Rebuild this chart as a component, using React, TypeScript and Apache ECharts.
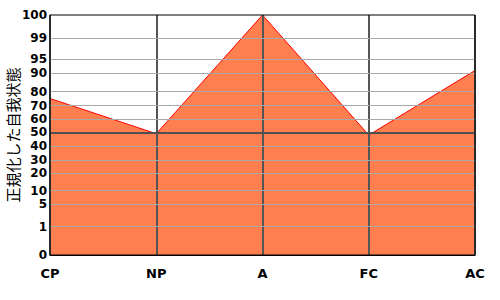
import React, { useEffect, useRef } from "react";
import * as echarts from "echarts";

const CATEGORIES = ["CP", "NP", "A", "FC", "AC"];
const VALUES = [75, 49, 100, 48, 91];
// normalized-score tick labels and where each sits on the (non-linear) axis scale, in axis units 0..240
const TICK_LABELS = [0, 1, 5, 10, 20, 30, 40, 50, 60, 70, 80, 90, 95, 99, 100];
const TICK_SCALE = [0, 28.3, 50.7, 64.3, 81.7, 95, 108.7, 122.7, 135.7, 149.5, 163.5, 181.7, 195.7, 217, 240];
const Y_NAME = "正規化した自我状態";

function toAxis(v: number): number {
  for (let i = 0; i < TICK_LABELS.length - 1; i++) {
    const a = TICK_LABELS[i], b = TICK_LABELS[i + 1];
    if (v >= a && v <= b) {
      return TICK_SCALE[i] + ((v - a) / (b - a)) * (TICK_SCALE[i + 1] - TICK_SCALE[i]);
    }
  }
  return v <= TICK_LABELS[0] ? TICK_SCALE[0] : TICK_SCALE[TICK_SCALE.length - 1];
}

function labelFor(pos: number): string {
  for (let i = 0; i < TICK_SCALE.length; i++) {
    if (Math.abs(TICK_SCALE[i] - pos) < 0.01) return String(TICK_LABELS[i]);
  }
  return "";
}

export default function App() {
  const ref = useRef<HTMLDivElement>(null);
  useEffect(() => {
    if (!ref.current) return;
    const chart = echarts.init(ref.current, undefined, { renderer: "svg" });
    const font = "DejaVu Sans";
    chart.setOption({
      animation: false,
      backgroundColor: "#fff",
      grid: {
        left: 50,
        right: 25,
        top: 15,
        bottom: 45,
        outerBoundsMode: "none",
        containLabel: false,
        show: true,
        borderColor: "#000",
        borderWidth: 1,
        backgroundColor: "transparent",
        z: 10,
      },
      xAxis: {
        type: "category",
        data: CATEGORIES,
        boundaryGap: false,
        z: 3,
        axisLine: { show: true, lineStyle: { color: "#000", width: 1 } },
        axisTick: { show: false },
        axisLabel: { color: "#000", fontSize: 13, fontWeight: "bold", fontFamily: font, margin: 12 },
        splitLine: { show: true, lineStyle: { color: "#555", width: 2 } },
      },
      yAxis: {
        type: "value",
        min: 0,
        max: 240,
        axisLine: { show: true, lineStyle: { color: "#000" } },
        axisTick: { show: false },
        splitLine: { show: false },
        axisLabel: {
          color: "#000",
          fontSize: 12,
          lineHeight: 11,
          fontWeight: "bold",
          fontFamily: font,
          margin: 3,
          hideOverlap: false,
          customValues: TICK_LABELS.map(toAxis),
          formatter: (val: number) => labelFor(val),
        },
        name: Y_NAME,
        nameLocation: "middle",
        nameRotate: 90,
        nameGap: 30,
        nameMoveOverlap: false,
        nameTextStyle: { color: "#000", fontSize: 15, fontFamily: "Noto Sans CJK JP" },
      },
      series: [
        {
          type: "line",
          data: VALUES.map(toAxis),
          symbol: "none",
          z: 2,
          lineStyle: { color: "#FF0000", width: 1 },
          areaStyle: { color: "#FF7F50", opacity: 1 },
          markLine: {
            silent: true,
            symbol: "none",
            label: { show: false },
            z: 5,
            data: TICK_LABELS.filter((v) => v > 0 && v < 100).map((v) => ({
              yAxis: toAxis(v),
              lineStyle: { color: v === 50 ? "#505050" : "#A8A8A8", width: v === 50 ? 2 : 1, type: "solid" },
            })),
          },
        },
      ],
    });
    return () => chart.dispose();
  }, []);
  return <div ref={ref} style={{ width: 500, height: 300, position: "fixed", left: 0, top: 0 }} />;
}
